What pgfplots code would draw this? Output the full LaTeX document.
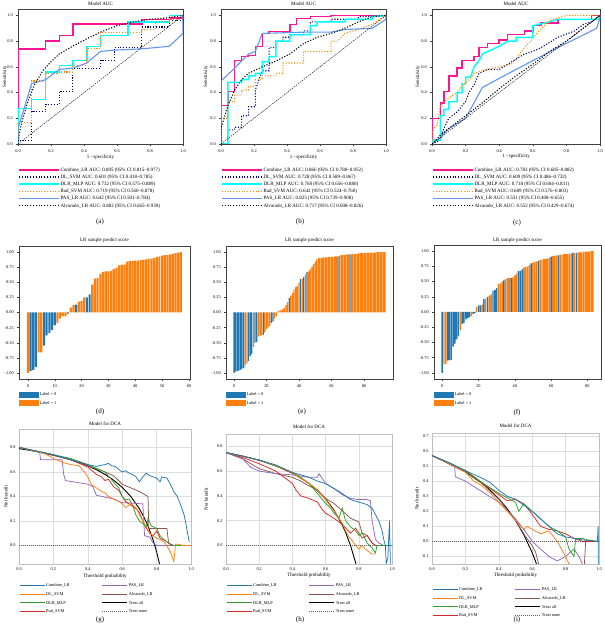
\documentclass[border=0pt]{standalone}
\usepackage{fontspec}
\setmainfont{Liberation Serif}
\usepackage{pgfplots}
\usepackage{pgfplotstable}
\pgfplotsset{compat=1.18}

\definecolor{deeppink}{HTML}{FF1493}
\definecolor{navyc}{HTML}{000080}
\definecolor{aquac}{HTML}{00FFFF}
\definecolor{dorange}{HTML}{FF8C00}
\definecolor{cornflower}{HTML}{6495ED}
\definecolor{tabblue}{HTML}{1F77B4}
\definecolor{taborange}{HTML}{FF7F0E}
\definecolor{tabgreen}{HTML}{2CA02C}
\definecolor{tabred}{HTML}{D62728}
\definecolor{tabpurple}{HTML}{9467BD}
\definecolor{tabbrown}{HTML}{8C564B}

\newcommand\tk{\fontsize{4.3}{5}\selectfont}
\newcommand\legfont{\fontsize{5}{6}\selectfont}
\newcommand\lb{\fontsize{5}{6}\selectfont}
\newcommand\sub{\fontsize{7}{8}\selectfont}

% sorted LR scores of the three test sets: index, score, true label
\pgfplotstableread{
idx val lab
0 -1.00 1
1 -0.97 0
2 -0.95 0
3 -0.90 0
4 -0.66 1
5 -0.66 1
6 -0.55 0
7 -0.38 0
8 -0.34 0
9 -0.29 0
10 -0.21 0
11 -0.17 1
12 -0.10 1
13 -0.06 1
14 -0.06 1
15 -0.02 0
16 0.08 1
17 0.12 1
18 0.13 0
19 0.18 1
20 0.19 1
21 0.25 1
22 0.25 0
23 0.30 0
24 0.46 1
25 0.56 1
26 0.57 1
27 0.64 1
28 0.67 1
29 0.68 1
30 0.68 1
31 0.69 1
32 0.72 1
33 0.74 1
34 0.78 1
35 0.79 1
36 0.79 1
37 0.84 1
38 0.85 1
39 0.85 1
40 0.86 1
41 0.86 1
42 0.87 1
43 0.87 1
44 0.88 1
45 0.89 1
46 0.89 1
47 0.90 1
48 0.92 1
49 0.93 1
50 0.94 1
51 0.95 1
52 0.95 1
53 0.96 1
54 0.97 1
55 0.98 1
56 0.99 1
57 1.00 1
}\scoresD

\pgfplotstableread{
idx val lab
0 -1.00 0
1 -0.98 0
2 -0.97 0
3 -0.96 0
4 -0.95 0
5 -0.93 0
6 -0.92 0
7 -0.87 1
8 -0.84 1
9 -0.80 0
10 -0.72 0
11 -0.69 0
12 -0.57 1
13 -0.50 0
14 -0.49 0
15 -0.40 1
16 -0.39 1
17 -0.38 1
18 -0.37 0
19 -0.33 1
20 -0.28 1
21 -0.25 1
22 -0.22 1
23 -0.17 0
24 -0.15 0
25 -0.10 1
26 -0.06 1
27 0.02 1
28 0.03 1
29 0.04 1
30 0.05 1
31 0.08 1
32 0.12 1
33 0.17 1
34 0.24 0
35 0.28 1
36 0.32 1
37 0.38 1
38 0.42 1
39 0.44 1
40 0.50 1
41 0.55 0
42 0.56 1
43 0.59 0
44 0.63 1
45 0.67 0
46 0.68 1
47 0.72 1
48 0.76 1
49 0.80 1
50 0.84 1
51 0.88 1
52 0.90 1
53 0.90 1
54 0.90 1
55 0.91 1
56 0.91 1
57 0.91 1
58 0.92 1
59 0.92 1
60 0.92 1
61 0.92 1
62 0.93 1
63 0.93 1
64 0.93 0
65 0.94 1
66 0.95 1
67 0.95 1
68 0.95 1
69 0.96 1
70 0.96 1
71 0.96 1
72 0.96 0
73 0.97 1
74 0.97 1
75 0.97 1
76 0.97 1
77 0.98 1
78 0.98 1
79 0.98 1
80 0.98 1
81 0.98 1
82 0.99 1
83 0.99 1
84 0.99 1
85 0.99 1
86 0.99 1
87 0.99 1
88 1.00 1
89 1.00 1
90 1.00 1
91 1.00 1
92 1.00 1
93 1.00 1
}\scoresE

\pgfplotstableread{
idx val lab
0 -1.00 0
1 -0.86 1
2 -0.85 1
3 -0.80 0
4 -0.79 0
5 -0.79 0
6 -0.57 0
7 -0.52 0
8 -0.45 0
9 -0.40 0
10 -0.30 1
11 -0.20 0
12 -0.18 0
13 -0.12 0
14 -0.10 0
15 -0.09 0
16 -0.07 1
17 -0.03 0
18 -0.02 0
19 0.08 1
20 0.11 0
21 0.11 0
22 0.12 1
23 0.21 0
24 0.22 1
25 0.25 0
26 0.27 1
27 0.29 1
28 0.35 0
29 0.36 0
30 0.39 0
31 0.46 1
32 0.47 1
33 0.50 1
34 0.52 0
35 0.54 1
36 0.56 1
37 0.56 1
38 0.56 0
39 0.57 1
40 0.60 1
41 0.63 1
42 0.67 0
43 0.67 0
44 0.70 0
45 0.73 1
46 0.74 1
47 0.75 1
48 0.77 1
49 0.80 0
50 0.81 1
51 0.82 1
52 0.83 1
53 0.84 0
54 0.85 1
55 0.86 1
56 0.87 1
57 0.87 1
58 0.88 1
59 0.89 1
60 0.91 0
61 0.92 1
62 0.92 1
63 0.93 1
64 0.93 0
65 0.94 1
66 0.94 1
67 0.95 1
68 0.95 1
69 0.95 1
70 0.96 1
71 0.96 1
72 0.97 0
73 0.97 1
74 0.97 0
75 0.98 1
76 0.98 1
77 0.98 1
78 0.99 1
79 0.99 1
80 0.99 1
81 0.99 1
82 1.00 1
83 1.00 1
}\scoresF

\pgfplotsset{
  every axis title shift=0pt,
  every axis/.append style={
    scale only axis,
    tick label style={font=\tk},
    label style={font=\lb},
    title style={font=\lb},
    /pgf/number format/assume math mode=true,
  },
  % ROC panels
  roc/.style={
    xmin=0, xmax=1, ymin=0, ymax=1.05,
    xtick={0,0.2,0.4,0.6,0.8,1}, ytick={0,0.2,0.4,0.6,0.8,1},
    xticklabel style={/pgf/number format/.cd,fixed,fixed zerofill,precision=1},
    yticklabel style={/pgf/number format/.cd,fixed,fixed zerofill,precision=1},
    tick align=outside, tick pos=left, major tick length=1.8pt,
    axis line style={black!75, line width=0.4pt},
    tick style={black!75, line width=0.4pt},
    title={Model AUC}, xlabel={1 - specificity}, ylabel={Sensitivity},
    title style={at={(0.5,1.042)}, anchor=center},
    legend style={draw=none, fill=none, at={(0,-0.163)}, anchor=north west,
      font=\legfont, inner sep=0pt, cells={anchor=west},
      nodes={inner sep=0.9pt, text height=4pt, text depth=1.4pt}},
    legend cell align=left,
    legend image code/.code={\draw[##1] (0pt,0pt) -- (40pt,0pt);},
  },
  combine/.style={deeppink, line width=1.5pt},
  dlsvm/.style={navyc, line width=1.1pt, dash pattern=on 1.1pt off 1.7pt},
  dlrmlp/.style={aquac, line width=1.5pt},
  radsvm/.style={dorange, line width=1.1pt, dash pattern=on 1.1pt off 1.7pt},
  pas/.style={cornflower, line width=1.1pt},
  alv/.style={black, line width=1.1pt, dash pattern=on 1.1pt off 1.7pt},
  diag/.style={black, line width=0.4pt, dash pattern=on 1.5pt off 1pt},
  % score bar panels
  bars/.style={
    ybar,
    ymin=-1.1, ymax=1.1,
    ytick={-1,-0.75,-0.5,-0.25,0,0.25,0.5,0.75,1},
    yticklabel style={/pgf/number format/.cd,fixed,fixed zerofill,precision=2},
    tick align=outside, tick pos=left, major tick length=1.8pt,
    axis line style={black!75, line width=0.4pt},
    tick style={black!75, line width=0.4pt},
    title={LR sample predict score},
    legend style={draw=none, fill=none, at={(0,-0.083)}, anchor=north west,
      font=\tk, inner sep=0pt, cells={anchor=west},
      nodes={inner sep=1.2pt, text height=4.4pt, text depth=1.7pt}},
    legend cell align=left,
  },
  bar0/.style={bar width=0.8, bar shift=0pt, fill=tabblue, draw=none,
    restrict expr to domain={\thisrow{lab}}{-0.5:0.5}},
  bar1/.style={bar width=0.8, bar shift=0pt, fill=taborange, draw=none,
    restrict expr to domain={\thisrow{lab}}{0.5:1.5}},
  % decision curve panels
  dca/.style={
    xmin=0, xmax=1, ymin=-0.15,
    xtick={0,0.2,0.4,0.6,0.8,1},
    xticklabel style={/pgf/number format/.cd,fixed,fixed zerofill,precision=1},
    yticklabel style={/pgf/number format/.cd,fixed,fixed zerofill,precision=1},
    xmajorgrids, ymajorgrids,
    major grid style={black!13, line width=0.6pt},
    axis line style={black!25, line width=0.5pt},
    major tick length=0pt,
    title={Model for DCA}, xlabel={Threshold probability}, ylabel={Net benefit},
    legend style={draw=none, fill=none, anchor=north west,
      font=\tk, inner sep=0pt, cells={anchor=west},
      nodes={inner sep=1.2pt, text height=4.5pt, text depth=1.7pt},
      /tikz/column 2/.style={column sep=31pt}},
    legend columns=2,
    legend cell align=left,
    legend image code/.code={\draw[##1] (0pt,0pt) -- (25pt,0pt);},
  },
  nbA/.style={tabblue, line width=0.75pt},
  nbB/.style={taborange, line width=0.75pt},
  nbC/.style={tabgreen, line width=0.75pt},
  nbD/.style={tabred, line width=0.75pt},
  nbE/.style={tabpurple, line width=0.75pt},
  nbF/.style={tabbrown, line width=0.75pt},
  nball/.style={black, line width=0.9pt},
  nbnone/.style={black!60, line width=0.7pt, dash pattern=on 1pt off 1pt},
}

\newcommand\dcalegend{%
  \addlegendimage{nbA}\addlegendentry{Combine\_LR}
  \addlegendimage{nbE}\addlegendentry{PAS\_LR}
  \addlegendimage{nbB}\addlegendentry{DL\_SVM}
  \addlegendimage{nbF}\addlegendentry{Alvarado\_LR}
  \addlegendimage{nbC}\addlegendentry{DLR\_MLP}
  \addlegendimage{nball}\addlegendentry{Treat all}
  \addlegendimage{nbD}\addlegendentry{Rad\_SVM}
  \addlegendimage{nbnone}\addlegendentry{Treat none}}

\newcommand\barlegend{%
  \addlegendimage{legend image code/.code={\fill[tabblue] (0pt,-2.4pt) rectangle (19pt,2.4pt);}}
  \addlegendentry{Label = 0}
  \addlegendimage{legend image code/.code={\fill[taborange] (0pt,-2.4pt) rectangle (19pt,2.4pt);}}
  \addlegendentry{Label = 1}}

\begin{document}
\begin{tikzpicture}
\useasboundingbox (0pt,0pt) rectangle (604pt,628pt);

%---------------- (a) ----------------
\begin{axis}[roc, at={(18pt,484pt)}, anchor=south west, width=165pt, height=135pt,
  xlabel style={at={(0.5,-0.096)}, anchor=center},
  ylabel style={at={(-0.079,0.5)}, anchor=center}]
\addplot[combine] coordinates {(0,0)(0,0.738)(0.167,0.738)(0.167,0.80)(0.25,0.80)(0.25,0.845)(0.333,0.845)(0.333,0.935)(0.75,0.935)(0.75,0.97)(0.917,0.97)(0.917,0.98)(1,0.98)(1,1)};
\addlegendentry{Combine\_LR AUC: 0.895 (95\% CI 0.815--0.977)}
\addplot[dlsvm] coordinates {(0,0)(0,0.03)(0.083,0.03)(0.083,0.25)(0.167,0.25)(0.167,0.31)(0.25,0.31)(0.25,0.41)(0.333,0.41)(0.333,0.59)(0.5,0.59)(0.5,0.65)(0.583,0.65)(0.583,0.75)(0.75,0.75)(0.75,0.91)(0.917,0.91)(0.917,0.96)(1,0.96)(1,1)};
\addlegendentry{DL\_SVM AUC: 0.601 (95\% CI 0.418--0.785)}
\addplot[dlrmlp] coordinates {(0,0)(0,0.275)(0.083,0.275)(0.083,0.345)(0.167,0.345)(0.167,0.56)(0.25,0.56)(0.25,0.61)(0.333,0.61)(0.333,0.65)(0.417,0.65)(0.417,0.76)(0.5,0.76)(0.5,0.845)(0.667,0.845)(0.667,0.95)(0.917,0.95)(0.917,1)(1,1)};
\addlegendentry{DLR\_MLP AUC: 0.732 (95\% CI 0.575--0.889)}
\addplot[radsvm] coordinates {(0,0)(0,0.17)(0.083,0.17)(0.083,0.49)(0.167,0.49)(0.167,0.55)(0.25,0.55)(0.25,0.56)(0.333,0.56)(0.333,0.61)(0.417,0.61)(0.417,0.74)(0.5,0.74)(0.5,0.87)(0.75,0.87)(0.75,0.89)(0.833,0.89)(0.833,0.95)(0.917,0.95)(0.917,0.97)(1,0.97)(1,1)};
\addlegendentry{Rad\_SVM AUC: 0.719 (95\% CI 0.560--0.878)}
\addplot[pas] coordinates {(0,0)(0,0.12)(0.083,0.47)(0.167,0.50)(0.25,0.58)(0.333,0.59)(0.417,0.63)(0.5,0.72)(0.583,0.73)(0.75,0.74)(0.917,0.76)(1,0.86)(1,1)};
\addlegendentry{PAS\_LR AUC: 0.642 (95\% CI 0.501--0.784)}
\addplot[alv] coordinates {(0,0)(0.01,0.1)(0.03,0.2)(0.06,0.33)(0.1,0.46)(0.15,0.57)(0.2,0.64)(0.25,0.70)(0.33,0.76)(0.42,0.82)(0.5,0.87)(0.6,0.92)(0.7,0.95)(0.8,0.97)(0.9,0.98)(1,1)};
\addlegendentry{Alvarado\_LR AUC: 0.802 (95\% CI 0.665--0.939)}
\addplot[diag, forget plot] coordinates {(0,0)(1,1)};
\end{axis}

%---------------- (b) ----------------
\begin{axis}[roc, at={(221pt,484pt)}, anchor=south west, width=165pt, height=135pt,
  xlabel style={at={(0.5,-0.096)}, anchor=center},
  ylabel style={at={(-0.091,0.5)}, anchor=center}]
\addplot[combine] coordinates {(0,0)(0,0.30)(0.042,0.30)(0.042,0.41)(0.083,0.41)(0.083,0.65)(0.125,0.65)(0.125,0.68)(0.167,0.68)(0.167,0.69)(0.208,0.69)(0.208,0.76)(0.25,0.76)(0.25,0.86)(0.292,0.86)(0.292,0.875)(0.417,0.875)(0.417,0.93)(0.458,0.93)(0.458,0.975)(0.542,0.975)(0.542,0.99)(0.667,0.99)(0.667,1)(1,1)};
\addlegendentry{Combine\_LR AUC: 0.866 (95\% CI 0.780--0.952)}
\addplot[dlsvm] coordinates {(0,0)(0.042,0)(0.042,0.11)(0.083,0.11)(0.083,0.13)(0.125,0.13)(0.125,0.22)(0.167,0.22)(0.167,0.29)(0.208,0.29)(0.208,0.42)(0.25,0.57)(0.292,0.57)(0.292,0.75)(0.333,0.75)(0.333,0.80)(0.375,0.80)(0.375,0.83)(0.417,0.83)(0.417,0.85)(0.5,0.85)(0.5,0.88)(0.542,0.88)(0.542,0.95)(0.667,0.95)(0.667,0.97)(0.833,0.97)(0.833,0.99)(1,1)};
\addlegendentry{DL\_SVM AUC: 0.728 (95\% CI 0.589--0.867)}
\addplot[dlrmlp] coordinates {(0,0)(0.042,0)(0.042,0.48)(0.125,0.48)(0.125,0.50)(0.167,0.50)(0.167,0.53)(0.208,0.53)(0.208,0.55)(0.25,0.55)(0.25,0.64)(0.292,0.64)(0.292,0.68)(0.333,0.68)(0.333,0.80)(0.417,0.80)(0.417,0.85)(0.542,0.85)(0.542,0.92)(0.583,0.92)(0.583,0.95)(0.75,0.95)(0.75,0.97)(0.917,0.97)(0.917,0.99)(1,1)};
\addlegendentry{DLR\_MLP AUC: 0.768 (95\% CI 0.656--0.880)}
\addplot[radsvm] coordinates {(0,0)(0,0.2)(0.042,0.2)(0.042,0.33)(0.083,0.33)(0.083,0.38)(0.125,0.38)(0.125,0.42)(0.167,0.42)(0.167,0.45)(0.208,0.45)(0.208,0.50)(0.25,0.50)(0.25,0.53)(0.333,0.53)(0.333,0.55)(0.375,0.55)(0.375,0.63)(0.5,0.63)(0.5,0.72)(0.667,0.72)(0.667,0.80)(0.708,0.80)(0.75,0.86)(0.833,0.89)(0.917,0.93)(1,1)};
\addlegendentry{Rad\_SVM AUC: 0.642 (95\% CI 0.524--0.760)}
\addplot[pas] coordinates {(0,0)(0,0.49)(0.083,0.59)(0.167,0.70)(0.208,0.72)(0.25,0.86)(0.5,0.87)(0.667,0.87)(0.75,0.89)(0.917,0.90)(1,0.97)(1,1)};
\addlegendentry{PAS\_LR AUC: 0.823 (95\% CI 0.739--0.908)}
\addplot[alv] coordinates {(0,0)(0,0.12)(0.042,0.30)(0.083,0.42)(0.125,0.50)(0.167,0.55)(0.25,0.60)(0.333,0.645)(0.417,0.70)(0.5,0.78)(0.583,0.83)(0.667,0.86)(0.75,0.90)(0.833,0.95)(0.917,0.99)(1,1)};
\addlegendentry{Alvarado\_LR AUC: 0.717 (95\% CI 0.608--0.826)}
\addplot[diag, forget plot] coordinates {(0,0)(1,1)};
\end{axis}

%---------------- (c) ----------------
\begin{axis}[roc, at={(432pt,484pt)}, anchor=south west, width=168pt, height=135pt,
  xlabel style={at={(0.5,-0.089)}, anchor=center},
  ylabel style={at={(-0.083,0.5)}, anchor=center}]
\addplot[combine] coordinates {(0,0)(0,0.2)(0.05,0.2)(0.05,0.32)(0.07,0.32)(0.07,0.41)(0.1,0.41)(0.1,0.53)(0.15,0.53)(0.15,0.59)(0.18,0.59)(0.18,0.65)(0.25,0.65)(0.25,0.68)(0.28,0.68)(0.28,0.75)(0.33,0.75)(0.33,0.78)(0.4,0.78)(0.4,0.81)(0.45,0.81)(0.45,0.85)(0.55,0.85)(0.55,0.88)(0.6,0.88)(0.6,0.92)(0.65,0.92)(0.65,0.94)(0.75,0.94)(0.75,0.97)(0.95,0.97)(0.95,1)(1,1)};
\addlegendentry{Combine\_LR AUC: 0.783 (95\% CI 0.685--0.882)}
\addplot[dlsvm] coordinates {(0,0)(0.05,0.03)(0.07,0.12)(0.1,0.2)(0.15,0.25)(0.2,0.33)(0.22,0.4)(0.25,0.46)(0.28,0.55)(0.33,0.58)(0.4,0.58)(0.5,0.66)(0.55,0.70)(0.6,0.72)(0.65,0.75)(0.75,0.83)(0.85,0.88)(0.9,0.93)(0.95,0.95)(1,1)};
\addlegendentry{DL\_SVM AUC: 0.609 (95\% CI 0.486--0.732)}
\addplot[dlrmlp] coordinates {(0,0)(0,0.03)(0.05,0.03)(0.05,0.22)(0.07,0.22)(0.07,0.27)(0.1,0.27)(0.1,0.33)(0.15,0.33)(0.15,0.40)(0.18,0.40)(0.18,0.47)(0.2,0.47)(0.2,0.52)(0.23,0.52)(0.25,0.6)(0.28,0.65)(0.3,0.70)(0.35,0.73)(0.4,0.76)(0.45,0.80)(0.5,0.80)(0.5,0.83)(0.6,0.83)(0.6,0.92)(0.7,0.95)(0.75,0.97)(1,0.97)(1,1)};
\addlegendentry{DLR\_MLP AUC: 0.718 (95\% CI 0.604--0.831)}
\addplot[radsvm] coordinates {(0,0)(0,0.1)(0.03,0.15)(0.05,0.3)(0.1,0.36)(0.15,0.4)(0.18,0.45)(0.22,0.5)(0.25,0.55)(0.3,0.57)(0.4,0.6)(0.47,0.62)(0.5,0.66)(0.55,0.75)(0.6,0.82)(0.65,0.9)(0.7,0.96)(0.75,0.98)(0.8,1.0)(1,1)};
\addlegendentry{Rad\_SVM AUC: 0.689 (95\% CI 0.576--0.803)}
\addplot[pas] coordinates {(0,0)(0.05,0.05)(0.1,0.12)(0.2,0.2)(0.3,0.44)(0.5,0.58)(0.75,0.75)(0.95,0.88)(0.98,0.90)(1,0.98)(1,1)};
\addlegendentry{PAS\_LR AUC: 0.531 (95\% CI 0.408--0.655)}
\addplot[alv] coordinates {(0,0)(0.05,0.07)(0.1,0.12)(0.2,0.22)(0.3,0.32)(0.4,0.43)(0.5,0.53)(0.6,0.62)(0.7,0.72)(0.8,0.8)(0.9,0.9)(1,1)};
\addlegendentry{Alvarado\_LR AUC: 0.552 (95\% CI 0.429--0.674)}
\addplot[diag, forget plot] coordinates {(0,0)(1,1)};
\end{axis}

%---------------- (d) ----------------
\begin{axis}[bars, at={(19pt,249pt)}, anchor=south west, width=171pt, height=133pt,
  xmin=-3.3, xmax=60.4, xtick={0,10,20,30,40,50,60},
  title style={at={(0.5,1.045)}, anchor=center}]
\addplot[bar0, forget plot] table[x=idx, y=val] {\scoresD};
\addplot[bar1, forget plot] table[x=idx, y=val] {\scoresD};
\barlegend
\end{axis}

%---------------- (e) ----------------
\begin{axis}[bars, at={(226pt,249pt)}, anchor=south west, width=167pt, height=133pt,
  xmin=-4.9, xmax=97.9, xtick={0,20,40,60,80},
  title style={at={(0.5,1.04)}, anchor=center}]
\addplot[bar0, forget plot] table[x=idx, y=val] {\scoresE};
\addplot[bar1, forget plot] table[x=idx, y=val] {\scoresE};
\barlegend
\end{axis}

%---------------- (f) ----------------
\begin{axis}[bars, at={(434pt,249pt)}, anchor=south west, width=167pt, height=134pt,
  xmin=-4.5, xmax=87.5, xtick={0,20,40,60,80},
  title style={at={(0.5,1.035)}, anchor=center}]
\addplot[bar0, forget plot] table[x=idx, y=val] {\scoresF};
\addplot[bar1, forget plot] table[x=idx, y=val] {\scoresF};
\barlegend
\end{axis}

%---------------- (g) ----------------
\begin{axis}[dca, at={(19pt,64pt)}, anchor=south west, width=172pt, height=135pt,
  ymax=0.95, ytick={0,0.2,0.4,0.6,0.8},
  title style={at={(0.5,1.037)}, anchor=center},
  xlabel style={at={(0.5,-0.089)}, anchor=center},
  ylabel style={at={(-0.076,0.5)}, anchor=center},
  legend style={at={(0,-0.126)}}]
\addplot[nbnone, forget plot] coordinates {(0,0)(1,0)};
\addplot[nball, forget plot] coordinates {(0,0.79)(0.05,0.779)(0.1,0.767)(0.15,0.753)(0.2,0.7375)(0.25,0.72)(0.3,0.70)(0.35,0.677)(0.4,0.65)(0.45,0.618)(0.5,0.58)(0.55,0.533)(0.6,0.475)(0.65,0.40)(0.7,0.30)(0.72,0.25)(0.75,0.16)(0.78,0.045)(0.8,-0.05)(0.82,-0.167)};
\addplot[nbF, forget plot] coordinates {(0,0.8)(0.3,0.70)(0.4,0.65)(0.5,0.60)(0.55,0.57)(0.6,0.50)(0.65,0.47)(0.7,0.44)(0.75,0.40)(0.755,0.14)(0.82,0.14)(0.86,0.14)(0.87,0.02)(0.9,0.0)(1,0)};
\addplot[nbE, forget plot] coordinates {(0,0.8)(0.12,0.765)(0.125,0.70)(0.2,0.70)(0.25,0.70)(0.26,0.58)(0.27,0.53)(0.4,0.50)(0.43,0.48)(0.45,0.41)(0.55,0.38)(0.58,0.36)(0.6,0.35)(0.72,0.34)(0.73,0.08)(0.76,0.07)(0.78,0.02)(0.8,0.0)(1,0)};
\addplot[nbD, forget plot] coordinates {(0,0.8)(0.2,0.74)(0.3,0.70)(0.35,0.67)(0.4,0.64)(0.45,0.58)(0.48,0.56)(0.5,0.53)(0.52,0.54)(0.55,0.48)(0.58,0.45)(0.6,0.40)(0.62,0.36)(0.65,0.33)(0.68,0.30)(0.7,0.27)(0.72,0.20)(0.74,0.14)(0.76,0.10)(0.78,0.08)(0.8,0.12)(0.82,0.06)(0.85,0.04)(0.88,0.01)(0.9,0)(1,0)};
\addplot[nbC, forget plot] coordinates {(0,0.8)(0.2,0.74)(0.3,0.71)(0.4,0.66)(0.45,0.63)(0.5,0.60)(0.53,0.55)(0.56,0.50)(0.58,0.47)(0.6,0.40)(0.62,0.37)(0.64,0.38)(0.66,0.33)(0.68,0.25)(0.7,0.20)(0.72,0.18)(0.74,0.15)(0.75,0.22)(0.77,0.16)(0.8,0.14)(0.82,0.08)(0.85,0.04)(0.88,0.01)(0.9,0.0)(1,0)};
\addplot[nbB, forget plot] coordinates {(0,0.8)(0.15,0.75)(0.2,0.71)(0.25,0.68)(0.3,0.66)(0.35,0.65)(0.38,0.60)(0.4,0.56)(0.42,0.50)(0.45,0.47)(0.48,0.44)(0.5,0.43)(0.52,0.40)(0.55,0.38)(0.58,0.36)(0.6,0.34)(0.62,0.31)(0.65,0.34)(0.68,0.31)(0.7,0.25)(0.72,0.20)(0.74,0.15)(0.76,0.10)(0.78,0.08)(0.8,0.06)(0.82,0.05)(0.85,0.02)(0.88,-0.05)(0.9,-0.13)(0.91,0.01)(0.93,0.01)(0.95,0.0)(1,0)};
\addplot[nbA, forget plot] coordinates {(0,0.80)(0.05,0.785)(0.1,0.77)(0.15,0.755)(0.2,0.74)(0.25,0.72)(0.3,0.70)(0.35,0.68)(0.4,0.66)(0.45,0.645)(0.48,0.655)(0.5,0.66)(0.52,0.67)(0.54,0.65)(0.56,0.645)(0.58,0.62)(0.6,0.60)(0.62,0.61)(0.64,0.59)(0.66,0.58)(0.68,0.56)(0.7,0.52)(0.72,0.56)(0.74,0.59)(0.76,0.57)(0.78,0.56)(0.8,0.55)(0.82,0.52)(0.83,0.56)(0.86,0.55)(0.88,0.50)(0.9,0.44)(0.92,0.40)(0.94,0.33)(0.96,0.25)(0.97,0.18)(0.98,0.10)(0.99,0.03)};
\dcalegend
\end{axis}

%---------------- (h) ----------------
\begin{axis}[dca, at={(226pt,64pt)}, anchor=south west, width=166pt, height=130pt,
  ymax=0.9, ytick={0,0.2,0.4,0.6,0.8},
  title style={at={(0.5,1.056)}, anchor=center},
  xlabel style={at={(0.5,-0.09)}, anchor=center},
  ylabel style={at={(-0.12,0.5)}, anchor=center},
  legend style={at={(0,-0.131)}}]
\addplot[nbnone, forget plot] coordinates {(0,0)(1,0)};
\addplot[nball, forget plot] coordinates {(0,0.75)(0.1,0.722)(0.2,0.6875)(0.3,0.643)(0.4,0.583)(0.45,0.545)(0.5,0.5)(0.55,0.444)(0.6,0.375)(0.65,0.286)(0.7,0.167)(0.72,0.107)(0.75,0)(0.78,-0.136)(0.79,-0.19)};
\addplot[nbF, forget plot] coordinates {(0,0.75)(0.1,0.70)(0.2,0.62)(0.3,0.58)(0.4,0.55)(0.45,0.52)(0.5,0.48)(0.55,0.45)(0.6,0.38)(0.65,0.34)(0.7,0.28)(0.75,0.22)(0.8,0.19)(0.82,0.1)(0.85,0.08)(0.88,0.02)(0.9,0)(1,0)};
\addplot[nbE, forget plot] coordinates {(0,0.75)(0.1,0.70)(0.15,0.63)(0.2,0.60)(0.3,0.58)(0.4,0.57)(0.5,0.55)(0.55,0.55)(0.56,0.58)(0.6,0.50)(0.65,0.46)(0.7,0.41)(0.75,0.38)(0.8,0.37)(0.85,0.37)(0.87,0.36)(0.88,0.20)(0.9,0.05)(0.92,0.02)(0.95,0.0)(1,0)};
\addplot[nbD, forget plot] coordinates {(0,0.75)(0.1,0.71)(0.2,0.66)(0.3,0.60)(0.35,0.55)(0.4,0.50)(0.42,0.45)(0.45,0.40)(0.5,0.38)(0.55,0.35)(0.58,0.29)(0.6,0.26)(0.65,0.22)(0.7,0.17)(0.75,0.10)(0.78,0.14)(0.8,0.10)(0.82,0.06)(0.85,0.08)(0.88,0.02)(0.9,0.0)(1,0)};
\addplot[nbC, forget plot] coordinates {(0,0.75)(0.2,0.69)(0.3,0.64)(0.4,0.59)(0.45,0.55)(0.5,0.50)(0.55,0.42)(0.6,0.34)(0.63,0.30)(0.65,0.26)(0.68,0.22)(0.7,0.30)(0.72,0.20)(0.75,0.15)(0.78,0.12)(0.8,0.08)(0.82,0.10)(0.85,0.02)(0.88,-0.02)(0.9,-0.06)(0.91,0.0)(1,0)};
\addplot[nbB, forget plot] coordinates {(0,0.75)(0.2,0.69)(0.3,0.645)(0.4,0.585)(0.5,0.50)(0.55,0.45)(0.6,0.37)(0.65,0.28)(0.7,0.18)(0.72,0.12)(0.74,0.07)(0.76,0.04)(0.78,0.0)(0.8,-0.03)(0.82,0.0)(0.84,-0.03)(0.86,-0.05)(0.88,-0.07)(0.9,-0.07)};
\addplot[nbA, forget plot] coordinates {(0,0.75)(0.1,0.72)(0.2,0.69)(0.3,0.65)(0.35,0.62)(0.4,0.59)(0.45,0.57)(0.5,0.55)(0.55,0.52)(0.6,0.50)(0.65,0.46)(0.7,0.42)(0.75,0.37)(0.8,0.35)(0.85,0.33)(0.88,0.30)(0.9,0.25)(0.92,0.2)(0.94,0.12)(0.95,0.05)(0.96,0.0)(0.965,-0.15)(0.975,-0.1)(0.985,0.2)(0.99,-0.15)};
\dcalegend
\end{axis}

%---------------- (i) ----------------
\begin{axis}[dca, at={(432pt,64pt)}, anchor=south west, width=167pt, height=131pt,
  ymax=0.72, ytick={-0.1,0,0.1,0.2,0.3,0.4,0.5,0.6,0.7},
  title style={at={(0.5,1.053)}, anchor=center},
  xlabel style={at={(0.5,-0.084)}, anchor=center},
  ylabel style={at={(-0.09,0.5)}, anchor=center},
  legend style={at={(0,-0.16)}}]
\addplot[nbnone, forget plot] coordinates {(0,0)(1,0)};
\addplot[nball, forget plot] coordinates {(0,0.57)(0.1,0.522)(0.2,0.4625)(0.3,0.386)(0.35,0.3385)(0.4,0.283)(0.45,0.218)(0.5,0.14)(0.55,0.044)(0.6,-0.075)(0.63,-0.162)};
\addplot[nbF, forget plot] coordinates {(0,0.57)(0.2,0.46)(0.3,0.385)(0.4,0.28)(0.5,0.14)(0.55,0.05)(0.6,-0.03)(0.62,-0.07)(0.65,-0.2)(0.91,-0.2)(0.92,0.0)(1,0)};
\addplot[nbE, forget plot] coordinates {(0,0.57)(0.1,0.52)(0.135,0.505)(0.14,0.43)(0.2,0.40)(0.3,0.33)(0.4,0.26)(0.5,0.15)(0.55,0.08)(0.6,0.0)(0.65,-0.05)(0.7,-0.10)(0.75,-0.13)(0.8,-0.1)(0.85,-0.05)(0.88,-0.10)(0.9,-0.15)};
\addplot[nbD, forget plot] coordinates {(0,0.57)(0.2,0.47)(0.3,0.39)(0.4,0.31)(0.45,0.27)(0.5,0.28)(0.55,0.25)(0.6,0.18)(0.65,0.10)(0.7,0.08)(0.75,0.07)(0.8,0.05)(0.85,0.02)(0.9,0.0)(1,0)};
\addplot[nbC, forget plot] coordinates {(0,0.57)(0.2,0.47)(0.3,0.39)(0.4,0.32)(0.45,0.29)(0.5,0.26)(0.52,0.20)(0.55,0.25)(0.58,0.22)(0.6,0.20)(0.65,0.15)(0.7,0.10)(0.75,0.07)(0.8,0.03)(0.82,-0.05)(0.85,-0.1)(0.86,0.02)(0.9,0.02)(0.93,0.01)(1,0)};
\addplot[nbB, forget plot] coordinates {(0,0.57)(0.1,0.52)(0.2,0.46)(0.25,0.40)(0.3,0.37)(0.35,0.32)(0.4,0.26)(0.45,0.20)(0.5,0.14)(0.55,0.08)(0.57,0.10)(0.6,0.08)(0.65,0.05)(0.7,0.07)(0.75,0.0)(0.8,-0.1)(0.82,-0.15)};
\addplot[nbA, forget plot] coordinates {(0,0.57)(0.1,0.525)(0.2,0.47)(0.3,0.42)(0.35,0.39)(0.4,0.34)(0.45,0.30)(0.5,0.28)(0.55,0.24)(0.6,0.20)(0.65,0.15)(0.7,0.10)(0.75,0.05)(0.8,0.03)(0.85,0.02)(0.9,0.01)(0.99,0.0)(0.995,0.1)(0.996,-0.15)};
\dcalegend
\end{axis}

% sub-figure labels
\node[font=\sub] at (100pt,406pt) {(a)};
\node[font=\sub] at (300pt,406pt) {(b)};
\node[font=\sub] at (517pt,405pt) {(c)};
\node[font=\sub] at (100pt,216pt) {(d)};
\node[font=\sub] at (302pt,216pt) {(e)};
\node[font=\sub] at (517pt,215pt) {(f)};
\node[font=\sub] at (100pt,8pt) {(g)};
\node[font=\sub] at (300pt,8pt) {(h)};
\node[font=\sub] at (517pt,8pt) {(i)};
\end{tikzpicture}
\end{document}
